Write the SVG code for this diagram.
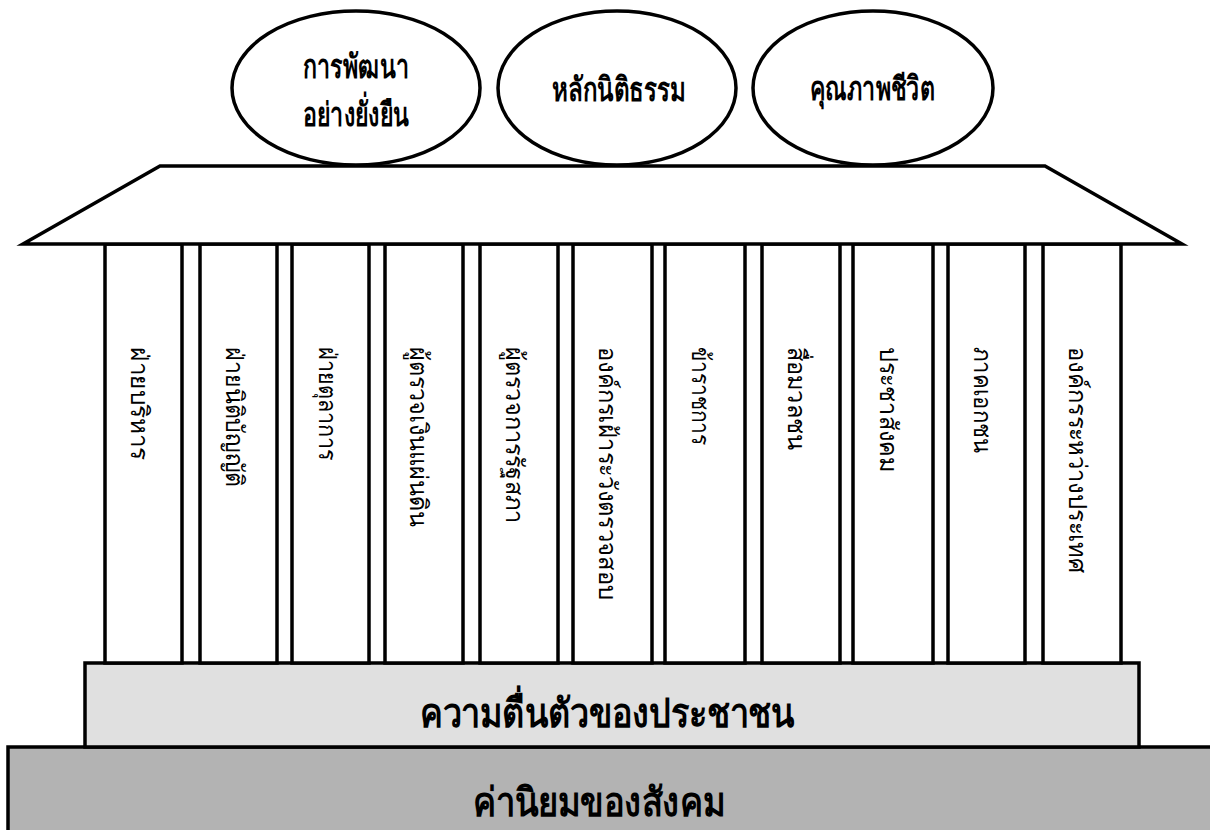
<svg xmlns="http://www.w3.org/2000/svg" width="1210" height="830" viewBox="0 0 1210 830">
<style>
.ln{fill:#fff;stroke:#000;stroke-width:3.5;stroke-linejoin:miter}
.pl{fill:#fff;stroke:#000;stroke-width:3.5}
.el{fill:#fff;stroke:#000;stroke-width:3.5}
.tb{font-family:"Noto Sans","DejaVu Sans",sans-serif;font-weight:bold;fill:#000;text-anchor:middle}
.tp{font-family:"Noto Sans","DejaVu Sans",sans-serif;font-size:25px;fill:#000}
</style>
<rect width="1210" height="830" fill="#fff"/>
<g id="base-values">
<rect x="8" y="747" width="1210" height="90" fill="#b3b3b3" stroke="#000" stroke-width="3.5"/>
<text class="tb" x="599" y="816" font-size="40" textLength="253" lengthAdjust="spacingAndGlyphs">ค่านิยมของสังคม</text>
</g>
<g id="base-awareness">
<rect x="85" y="663" width="1054" height="84" fill="#e0e0e0" stroke="#000" stroke-width="3.5"/>
<text class="tb" x="607" y="727" font-size="40" textLength="375" lengthAdjust="spacingAndGlyphs">ความตื่นตัวของประชาชน</text>
</g>
<g id="pillars">
<g id="p1"><rect class="pl" x="105" y="244" width="77" height="419"/><text class="tp" transform="translate(131,347) rotate(90)" textLength="113" lengthAdjust="spacingAndGlyphs">ฝ่ายบริหาร</text></g>
<g id="p2"><rect class="pl" x="200" y="244" width="77" height="419"/><text class="tp" transform="translate(226,347) rotate(90)" textLength="140" lengthAdjust="spacingAndGlyphs">ฝ่ายนิติบัญญัติ</text></g>
<g id="p3"><rect class="pl" x="292" y="244" width="77" height="419"/><text class="tp" transform="translate(319,347) rotate(90)" textLength="113" lengthAdjust="spacingAndGlyphs">ฝ่ายตุลาการ</text></g>
<g id="p4"><rect class="pl" x="385" y="244" width="78" height="419"/><text class="tp" transform="translate(410,347) rotate(90)" textLength="180" lengthAdjust="spacingAndGlyphs">ผู้ตรวจเงินแผ่นดิน</text></g>
<g id="p5"><rect class="pl" x="480" y="244" width="78" height="419"/><text class="tp" transform="translate(506,347) rotate(90)" textLength="176" lengthAdjust="spacingAndGlyphs">ผู้ตรวจการรัฐสภา</text></g>
<g id="p6"><rect class="pl" x="573" y="244" width="79" height="419"/><text class="tp" transform="translate(599,347) rotate(90)" textLength="253" lengthAdjust="spacingAndGlyphs">องค์กรเฝ้าระวังตรวจสอบ</text></g>
<g id="p7"><rect class="pl" x="665" y="244" width="80" height="419"/><text class="tp" transform="translate(692,347) rotate(90)" textLength="98" lengthAdjust="spacingAndGlyphs">ข้าราชการ</text></g>
<g id="p8"><rect class="pl" x="762" y="244" width="78" height="419"/><text class="tp" transform="translate(788,347) rotate(90)" textLength="103" lengthAdjust="spacingAndGlyphs">สื่อมวลชน</text></g>
<g id="p9"><rect class="pl" x="853" y="244" width="80" height="419"/><text class="tp" transform="translate(880,347) rotate(90)" textLength="125" lengthAdjust="spacingAndGlyphs">ประชาสังคม</text></g>
<g id="p10"><rect class="pl" x="948" y="244" width="77" height="419"/><text class="tp" transform="translate(974,347) rotate(90)" textLength="106" lengthAdjust="spacingAndGlyphs">ภาคเอกชน</text></g>
<g id="p11"><rect class="pl" x="1043" y="244" width="78" height="419"/><text class="tp" transform="translate(1069,347) rotate(90)" textLength="226" lengthAdjust="spacingAndGlyphs">องค์กรระหว่างประเทศ</text></g>
</g>
<g id="roof">
<polygon class="ln" points="160,166 1045,166 1182,244 23,244"/>
</g>
<g id="e1"><ellipse class="el" cx="356" cy="88" rx="124" ry="77"/>
<text class="tb" x="356" y="78" font-size="33" textLength="106" lengthAdjust="spacingAndGlyphs">การพัฒนา</text>
<text class="tb" x="356" y="126" font-size="33" textLength="106" lengthAdjust="spacingAndGlyphs">อย่างยั่งยืน</text></g>
<g id="e2"><ellipse class="el" cx="617" cy="88" rx="119" ry="77"/>
<text class="tb" x="619" y="101" font-size="33" textLength="134" lengthAdjust="spacingAndGlyphs">หลักนิติธรรม</text></g>
<g id="e3"><ellipse class="el" cx="873" cy="88" rx="120" ry="77"/>
<text class="tb" x="872" y="100" font-size="33" textLength="125" lengthAdjust="spacingAndGlyphs">คุณภาพชีวิต</text></g>
</svg>
